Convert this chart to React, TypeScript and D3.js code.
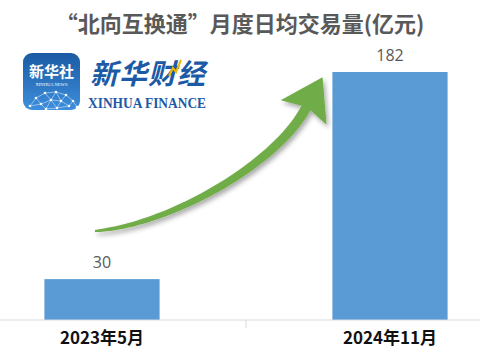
import React from "react";
import * as d3 from "d3";

const categories = ["2023年5月", "2024年11月"];
const values = [30, 182];
const title = "“北向互换通”月度日均交易量(亿元)";

const W = 480;
const H = 353;

export default function App() {
  const x = d3.scaleBand<string>().domain(categories).range([-42, 534]).paddingInner(0.6).paddingOuter(0.3);
  const y = d3.scaleLinear().domain([0, 182]).range([320, 72]);
  const step = x.step();
  const tickX = (x(categories[1]) as number) - (step * 0.6) / 2;

  // arrow geometry
  const P0: [number, number] = [95, 231];
  const P1: [number, number] = [170, 225];
  const P2: [number, number] = [276, 164];
  const P3: [number, number] = [306, 108];
  const bez = (t: number) => {
    const m = 1 - t;
    return [
      m * m * m * P0[0] + 3 * m * m * t * P1[0] + 3 * m * t * t * P2[0] + t * t * t * P3[0],
      m * m * m * P0[1] + 3 * m * m * t * P1[1] + 3 * m * t * t * P2[1] + t * t * t * P3[1],
    ];
  };
  const der = (t: number) => {
    const m = 1 - t;
    return [
      3 * m * m * (P1[0] - P0[0]) + 6 * m * t * (P2[0] - P1[0]) + 3 * t * t * (P3[0] - P2[0]),
      3 * m * m * (P1[1] - P0[1]) + 6 * m * t * (P2[1] - P1[1]) + 3 * t * t * (P3[1] - P2[1]),
    ];
  };
  const N = 50;
  const left: [number, number][] = [];
  const right: [number, number][] = [];
  for (let i = 0; i <= N; i++) {
    const t = i / N;
    const [bx, by] = bez(t);
    const [dx, dy] = der(t);
    const len = Math.hypot(dx, dy);
    const nx = -dy / len, ny = dx / len;
    const w = (2 + 8 * Math.pow(t, 0.6)) / 2;
    left.push([bx + nx * w, by + ny * w]);
    right.push([bx - nx * w, by - ny * w]);
  }
  const [ex, ey] = bez(1);
  const [ddx, ddy] = der(1);
  const dl = Math.hypot(ddx, ddy);
  const dxn = ddx / dl, dyn = ddy / dl;
  const nxe = -dyn, nye = dxn;
  const tip: [number, number] = [ex + dxn * 35, ey + dyn * 35];
  const barbA: [number, number] = [ex + nxe * 26 - dxn * 5, ey + nye * 26 - dyn * 5];
  const barbB: [number, number] = [ex - nxe * 26 - dxn * 5, ey - nye * 26 - dyn * 5];
  const poly = [...left, barbA, tip, barbB, ...right.reverse()];
  const arrowPath = d3.line()(poly) + "Z";

  // logo network
  const dots: [number, number][] = [
    [30, 106], [36, 98], [45, 93], [56, 92], [66, 95], [73, 101], [77, 107],
    [41, 104], [51, 100], [61, 101], [69, 106], [46, 109], [57, 108],
  ];
  const links = [
    [0, 1], [1, 2], [2, 3], [3, 4], [4, 5], [5, 6], [1, 7], [7, 8], [8, 9], [9, 10],
    [2, 8], [3, 8], [3, 9], [4, 9], [5, 10], [7, 11], [8, 11], [8, 12], [9, 12], [12, 10], [0, 7], [11, 12],
  ];

  return (
    <svg width={W} height={H} style={{ position: "absolute", left: 0, top: 0, background: "#fff" }}
      fontFamily="'Noto Sans CJK SC', 'Noto Sans', sans-serif">
      <defs>
        <linearGradient id="logoGrad" x1="0" y1="0" x2="0" y2="1">
          <stop offset="0" stopColor="#1b5aa3" />
          <stop offset="1" stopColor="#3d8fdc" />
        </linearGradient>
        <filter id="shadow" x="-20%" y="-20%" width="140%" height="140%">
          <feDropShadow dx="2" dy="3" stdDeviation="2.5" floodColor="#000" floodOpacity="0.35" />
        </filter>
      </defs>
      <text x={240} y={32} textAnchor="middle" fontSize={22} fontWeight={700} fill="#595959">{title}</text>

      {/* logo */}
      <rect x={23} y={53} width={57} height={57} rx={9} fill="url(#logoGrad)" />
      <text x={51.5} y={77} textAnchor="middle" fontSize={15} fontWeight={700} fill="#fff">新华社</text>
      <text x={51.5} y={86} textAnchor="middle" fontSize={4.6} fill="#fff" fontFamily="'Liberation Serif', serif">XINHUA NEWS</text>
      {links.map(([a, b], i) => (
        <line key={i} x1={dots[a][0]} y1={dots[a][1]} x2={dots[b][0]} y2={dots[b][1]} stroke="#cfe4fb" strokeWidth={0.6} />
      ))}
      {dots.map((d, i) => <circle key={i} cx={d[0]} cy={d[1]} r={1.3} fill="#fff" />)}
      <text x={90} y={84} fontSize={28} fontWeight={700} fontStyle="italic" fill="#1d5aa6" textLength={115}>新华财经</text>
      <polyline points="169,76 173,68 176,72 181,60" fill="none" stroke="#f2b705" strokeWidth={2} />
      <text x={88} y={108} fontSize={14} fontWeight={700} fill="#1d5aa6" fontFamily="'Liberation Serif', 'DejaVu Serif', serif" textLength={118} lengthAdjust="spacingAndGlyphs">XINHUA FINANCE</text>

      {/* bars */}
      {categories.map((c, i) => (
        <g key={c}>
          <rect x={x(c)} y={y(values[i])} width={x.bandwidth()} height={y(0) - y(values[i])} fill="#5b9bd5" />
          <text x={(x(c) as number) + x.bandwidth() / 2} y={y(values[i]) - 11} textAnchor="middle" fontSize={16}
            fill="#595959" fontFamily="'Open Sans', 'Liberation Sans', sans-serif">{values[i]}</text>
          <text x={(x(c) as number) + x.bandwidth() / 2} y={344} textAnchor="middle" fontSize={17} fontWeight={700} fill="#111">{c}</text>
        </g>
      ))}
      <line x1={0} x2={W} y1={320} y2={320} stroke="#d9d9d9" strokeWidth={1} />
      <line x1={tickX} x2={tickX} y1={320} y2={328} stroke="#d9d9d9" strokeWidth={1} />

      {/* arrow */}
      <path d={arrowPath} fill="#6fac46" filter="url(#shadow)" />
    </svg>
  );
}
